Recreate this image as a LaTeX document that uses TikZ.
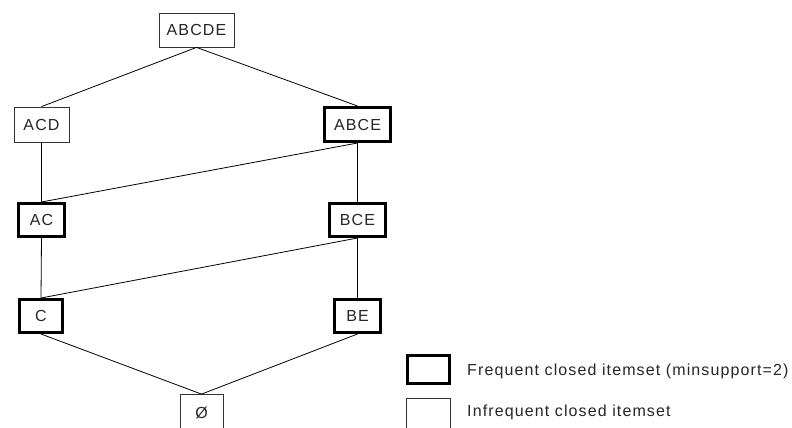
\documentclass[tikz,border=0pt]{standalone}
\usepackage{fontspec}
\setmainfont{Liberation Sans}[LetterSpace=7]
\begin{document}
\begin{tikzpicture}[x=1pt,y=-1pt,
  every node/.style={font=\fontsize{16}{19}\selectfont, inner sep=0pt, text=black!85},
  thinbox/.style={draw=black!80, line width=0.8pt, fill=white},
  thickbox/.style={draw=black, line width=3pt, fill=white},
  edge/.style={draw=black, line width=0.8pt}]
\useasboundingbox (0,0) rectangle (792,428);
% nodes
\node[thinbox, minimum width=75pt, minimum height=34pt] (abcde) at (196.5,30) {ABCDE};
\node[thinbox, minimum width=55pt, minimum height=35pt] (acd) at (41.5,124.5) {ACD};
\node[thickbox, minimum width=66pt, minimum height=34pt] (abce) at (357.5,124.5) {ABCE};
\node[thickbox, minimum width=46pt, minimum height=33pt] (ac) at (41.5,220) {AC};
\node[thickbox, minimum width=56pt, minimum height=33pt] (bce) at (357.5,220) {BCE};
\node[thickbox, minimum width=43pt, minimum height=33pt] (c) at (41,316) {C};
\node[thickbox, minimum width=46pt, minimum height=33pt] (be) at (357.5,316) {BE};
\node[thinbox, minimum width=43pt, minimum height=36pt] (empty) at (201.5,412.5) {Ø};
% edges
\draw[edge] (abcde.south) -- (acd.north);
\draw[edge] (abcde.south) -- (abce.north);
\draw[edge] (acd.south) -- (ac.north);
\draw[edge] (abce.south) -- (ac.north);
\draw[edge] (abce.south) -- (bce.north);
\draw[edge] (ac.south) -- (c.north);
\draw[edge] (bce.south) -- (c.north);
\draw[edge] (bce.south) -- (be.north);
\draw[edge] (c.south) -- (empty.north);
\draw[edge] (be.south) -- (empty.north);
% legend
\node[thickbox, minimum width=42pt, minimum height=28pt] (lgthick) at (428.5,369.5) {};
\node[thinbox, minimum width=44pt, minimum height=34pt] (lgthin) at (428.5,415.5) {};
\node[anchor=west] (lgtext1) at (467,371) {Frequent closed itemset (minsupport=2)};
\node[anchor=west] (lgtext2) at (467,412) {Infrequent closed itemset};
\end{tikzpicture}
\end{document}
